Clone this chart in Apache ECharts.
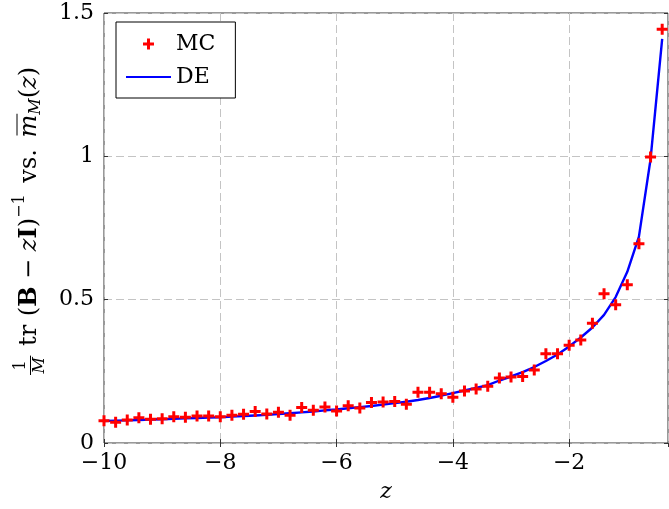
<!DOCTYPE html>
<html><head><meta charset="utf-8">
<script src="https://cdn.jsdelivr.net/npm/echarts@6/dist/echarts.min.js"></script>
<style>html,body{margin:0;padding:0;background:#fff}#c{width:669px;height:509px}</style>
</head><body><div id="c"></div>
<script>
const zValues = [-10.0,-9.8,-9.6,-9.4,-9.2,-9.0,-8.8,-8.6,-8.4,-8.2,-8.0,-7.8,-7.6,-7.4,-7.2,-7.0,-6.8,-6.6,-6.4,-6.2,-6.0,-5.8,-5.6,-5.4,-5.2,-5.0,-4.8,-4.6,-4.4,-4.2,-4.0,-3.8,-3.6,-3.4,-3.2,-3.0,-2.8,-2.6,-2.4,-2.2,-2.0,-1.8,-1.6,-1.4,-1.2,-1.0,-0.8,-0.6,-0.4];
const mcValues = [0.078,0.072,0.080,0.088,0.083,0.085,0.092,0.090,0.094,0.094,0.092,0.097,0.100,0.110,0.101,0.107,0.097,0.124,0.114,0.126,0.112,0.130,0.122,0.141,0.143,0.145,0.135,0.177,0.177,0.172,0.160,0.181,0.188,0.198,0.227,0.230,0.232,0.255,0.311,0.311,0.341,0.359,0.418,0.521,0.482,0.552,0.695,0.998,1.443];
const deValues = [0.077,0.078,0.079,0.080,0.082,0.083,0.084,0.086,0.087,0.089,0.090,0.092,0.094,0.096,0.098,0.101,0.104,0.107,0.110,0.114,0.117,0.121,0.125,0.129,0.134,0.139,0.144,0.150,0.157,0.165,0.174,0.183,0.192,0.202,0.218,0.232,0.247,0.265,0.286,0.309,0.337,0.368,0.403,0.447,0.509,0.597,0.720,0.990,1.410];
const xTickLabels = [-10,-8,-6,-4,-2];
const yTickLabels = [0,0.5,1,1.5];
const seriesNames = ['MC','DE'];

const FF = '"DejaVu Serif"';
const FS = 22;
const plusPath = 'path://M4,0h3v4h4v3h-4v4h-3v-4h-4v-3h4z';
const linePath = 'path://M0,0h45v2.2h-45z';

// ---- y axis label built from text pieces ----
const cv = document.createElement('canvas').getContext('2d');
function mw(t, f){ cv.font = f; return cv.measureText(t).width; }
const LS = 24;
const fR = LS+'px '+FF, fB = 'bold '+LS+'px '+FF, fI = 'italic '+LS+'px '+FF;
const fS = '16px '+FF, fSI = 'italic 16px '+FF;
const pieces = [
  {frac:true}, {gap:4},
  {t:'tr', f:fR}, {gap:3},
  {t:'(', f:fR}, {t:'B', f:fB}, {gap:2}, {t:'−', f:fR}, {gap:2}, {t:'z', f:fI}, {t:'I', f:fB}, {t:')', f:fR},
  {t:'−1', f:fS, dy:-10}, {gap:6},
  {t:'vs.', f:fR}, {gap:6},
  {t:'m', f:fI, over:true}, {t:'M', f:fSI, dy:6},
  {t:'(', f:fR}, {t:'z', f:fI}, {t:')', f:fR}
];
const fracW = Math.max(mw('1', fS), mw('M', fSI)) + 3;
let total = 0;
pieces.forEach(p => { p.w = p.frac ? fracW : (p.gap != null ? p.gap : mw(p.t, p.f)); total += p.w; });
const TARGET = 308;
const nGaps = pieces.filter(p => p.gap != null).length;
const extra = Math.max(0, (TARGET - total) / nGaps);
pieces.forEach(p => { if (p.gap != null) p.w += extra; });
total = pieces.reduce((s,p)=>s+p.w,0);
let cx = -total/2;
const labelChildren = [];
pieces.forEach(p => {
  if (p.frac) {
    labelChildren.push({type:'text', x: cx + fracW/2, y: -9, style:{text:'1', font:fS, fill:'#000', align:'center', verticalAlign:'middle'}});
    labelChildren.push({type:'text', x: cx + fracW/2, y: 10, style:{text:'M', font:fSI, fill:'#000', align:'center', verticalAlign:'middle'}});
    labelChildren.push({type:'line', shape:{x1: cx, y1: 0.5, x2: cx + fracW, y2: 0.5}, style:{stroke:'#000', lineWidth:1}});
  } else if (p.t) {
    labelChildren.push({type:'text', x: cx, y: p.dy || 0, style:{text:p.t, font:p.f, fill:'#000', align:'left', verticalAlign:'middle'}});
    if (p.over) labelChildren.push({type:'line', shape:{x1: cx+2, y1: -13, x2: cx + p.w + 1, y2: -13}, style:{stroke:'#000', lineWidth:1}});
  }
  cx += p.w;
});

const chart = echarts.init(document.getElementById('c'), null, {renderer:'canvas'});
const fmt = v => String(v).replace('-', '−');
const gridLine = {show:true, lineStyle:{color:'#c4c4c4', type:[8,4], width:1}};
const tick = {show:true, inside:true, length:4, lineStyle:{color:'#333'}};
chart.setOption({
  animation:false,
  backgroundColor:'#fff',
  grid:{left:104, top:13, width:564, height:430, show:true, borderColor:'#333', borderWidth:1, backgroundColor:'transparent', containLabel:false},
  xAxis:[
    {type:'value', min:-10, max:-0.3, interval:2, position:'bottom',
     axisLine:{show:false}, axisTick:tick, splitLine:gridLine,
     axisLabel:{formatter: v => xTickLabels.includes(v) ? fmt(v) : '', showMaxLabel:false, fontFamily:FF, fontSize:FS, color:'#000', margin:9},
     name:'z', nameLocation:'middle', nameGap:38, nameTextStyle:{fontFamily:FF, fontSize:FS, fontStyle:'italic', color:'#000'}},
    {type:'value', min:-10, max:-0.3, interval:2, position:'top',
     axisLine:{show:false}, axisTick:tick, splitLine:{show:false}, axisLabel:{show:false}}
  ],
  yAxis:[
    {type:'value', min:0, max:1.5, interval:0.5, position:'left',
     axisLine:{show:false}, axisTick:tick, splitLine:gridLine,
     axisLabel:{formatter: v => yTickLabels.includes(v) ? String(v) : '', fontFamily:FF, fontSize:FS, color:'#000', margin:10}},
    {type:'value', min:0, max:1.5, interval:0.5, position:'right',
     axisLine:{show:false}, axisTick:tick, splitLine:{show:false}, axisLabel:{show:false}}
  ],
  legend:{
    left:116, top:22, orient:'vertical', padding:[11,20,10,10],
    borderColor:'#000', borderWidth:1, backgroundColor:'#fff',
    itemWidth:45, itemHeight:11, itemGap:11,
    textStyle:{fontFamily:FF, fontSize:FS, color:'#000', lineHeight:22},
    data:[{name:seriesNames[0], icon:plusPath}, {name:seriesNames[1], icon:linePath}]
  },
  graphic:[{type:'group', x:30, y:221, rotation:Math.PI/2, children:labelChildren}],
  series:[
    {name:seriesNames[0], type:'scatter', symbol:plusPath, symbolSize:11,
     itemStyle:{color:'#ff0000', opacity:1}, z:4,
     data: zValues.map((z,i)=>[z, mcValues[i]])},
    {name:seriesNames[1], type:'line', symbol:'none', smooth:false,
     lineStyle:{color:'#0000ff', width:2.4}, itemStyle:{color:'#0000ff'}, z:3,
     data: zValues.map((z,i)=>[z, deValues[i]])}
  ]
});
</script></body></html>
